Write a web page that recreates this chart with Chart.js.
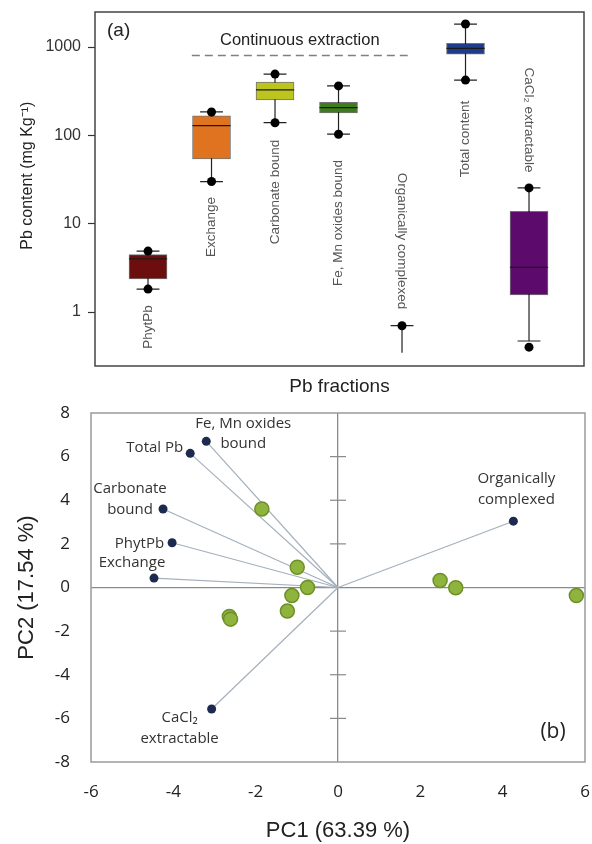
<!DOCTYPE html>
<html><head><meta charset="utf-8">
<script src="https://cdn.jsdelivr.net/npm/chart.js@4.4.0/dist/chart.umd.min.js"></script>
<style>
html,body{margin:0;padding:0;background:#fff;}
#wrap{position:relative;width:592px;height:844px;overflow:hidden;}
canvas{position:absolute;left:0;}
#c1{top:0;} #c2{top:400px;}
</style></head><body>
<div id="wrap"><canvas id="c1" width="592" height="400"></canvas><canvas id="c2" width="592" height="444"></canvas></div>
<script>
// ---------- Panel (a): Pb fractions box plots ----------
const categories = ['PhytPb','Exchange','Carbonate bound','Fe, Mn oxides bound','Organically complexed','Total content','CaCl\u2082 extractable'];
const boxQ1      = [2.37, 54, 252, 179, null, 832, 1.56];
const boxMedian  = [4.0, 129, 327, 206, null, 967, 3.2];
const boxQ3      = [4.47, 166, 400, 236, null, 1100, 13.8];
const whiskerLow = [1.82, 30, 139, 103, 0.345, 422, 0.47];
const whiskerHigh= [4.9, 184, 494, 363, 0.70, 1820, 25.4];
const capLow     = [1.82, 30, 139, 103, null, 422, 0.47];
const capHigh    = [4.9, 184, 494, 363, 0.70, 1820, 25.4];
const dotLow     = [1.82, 30, 139, 103, null, 422, 0.40];
const dotHigh    = [4.9, 184, 494, 363, 0.70, 1820, 25.4];
const boxColors  = ['#6d0e0e','#e0731f','#bcc41e','#3e7c1c','#888888','#1e3c8c','#5c0a6c'];
const yTicksA    = [1, 10, 100, 1000];
const extractionRange = [0.69, 4.09];
const extractionLevel = 800;

// ---------- Panel (b): PCA biplot ----------
const loadingNames = [['Fe, Mn oxides','bound'],['Total Pb'],['Carbonate','bound'],['PhytPb'],['Exchange'],['Organically','complexed'],['CaCl\u2082','extractable']];
const loadingPC1 = [-3.2, -3.59, -4.25, -4.03, -4.47, 4.26, -3.07];
const loadingPC2 = [6.7, 6.15, 3.6, 2.05, 0.43, 3.04, -5.57];
const scorePC1 = [-1.85, -0.99, -0.74, -1.12, -1.23, -2.64, -2.61, 2.48, 2.86, 5.79];
const scorePC2 = [3.6, 0.93, 0.0, -0.37, -1.08, -1.33, -1.45, 0.32, -0.01, -0.37];
const pcTicks = [-8,-6,-4,-2,0,2,4,6,8];

const FONT_A = '"Liberation Sans", Arial, sans-serif';
const FONT_B = '"Open Sans", "Noto Sans", sans-serif';
Chart.defaults.font.family = FONT_A;
Chart.defaults.color = '#222';

function seg(pairs){
  const out = [];
  pairs.forEach(p => { out.push(p[0], p[1], {x: p[1].x, y: null}); });
  return out;
}
function noPad(s){ s.paddingTop = 0; s.paddingBottom = 0; s.paddingLeft = 0; s.paddingRight = 0; }
const pos = categories.map((_, i) => i);
const capW = 0.18, medW = 0.3;
const whiskerData = seg(pos.map(i => [{x:i, y:whiskerLow[i]}, {x:i, y:whiskerHigh[i]}]));
const capData = seg([
  ...pos.filter(i => capLow[i] != null).map(i => [{x:i-capW, y:capLow[i]}, {x:i+capW, y:capLow[i]}]),
  ...pos.filter(i => capHigh[i] != null).map(i => [{x:i-capW, y:capHigh[i]}, {x:i+capW, y:capHigh[i]}])
]);
const boxIdx = pos.filter(i => boxQ1[i] != null);
const medianData = seg(boxIdx.map(i => [{x:i-medW, y:boxMedian[i]}, {x:i+medW, y:boxMedian[i]}]));
const boxData = boxIdx.map(i => ({x:i, y:[boxQ1[i], boxQ3[i]]}));
const dotData = [
  ...pos.filter(i => dotLow[i] != null).map(i => ({x:i, y:dotLow[i]})),
  ...pos.filter(i => dotHigh[i] != null).map(i => ({x:i, y:dotHigh[i]}))
];

const panelAPlugin = {
  id: 'panelA',
  afterDraw(chart, args, opts) {
    const {ctx, chartArea: a, scales: {x, y}} = chart;
    ctx.save();
    ctx.strokeStyle = '#444'; ctx.lineWidth = 1.5;
    ctx.strokeRect(a.left, a.top, a.right - a.left, a.bottom - a.top);
    ctx.font = '13.5px ' + FONT_A;
    ctx.fillStyle = '#555'; ctx.textAlign = 'center'; ctx.textBaseline = 'middle';
    categories.forEach((c, i) => {
      ctx.save();
      ctx.translate(x.getPixelForValue(i), opts.labelCenterY[i]);
      ctx.rotate(opts.labelDir[i] * Math.PI / 2);
      ctx.fillText(c, 0, 0);
      ctx.restore();
    });
    ctx.fillStyle = '#222';
    ctx.font = '19px ' + FONT_A; ctx.textAlign = 'left';
    ctx.fillText('(a)', a.left + 12, a.top + 19);
    ctx.font = '16.5px ' + FONT_A; ctx.textAlign = 'center';
    ctx.fillText('Continuous extraction',
      x.getPixelForValue((extractionRange[0] + extractionRange[1]) / 2),
      y.getPixelForValue(extractionLevel) - 15);
    ctx.restore();
  }
};

new Chart(document.getElementById('c1'), {
  type: 'scatter',
  data: { datasets: [
    { type:'line', data: whiskerData, borderColor:'#222', borderWidth:1.2, pointRadius:0, spanGaps:false, order:5 },
    { type:'line', data: capData, borderColor:'#222', borderWidth:1.2, pointRadius:0, spanGaps:false, order:4 },
    { type:'bar', data: boxData, backgroundColor: boxIdx.map(i => boxColors[i]), borderColor:'rgba(0,0,0,0.55)', borderWidth:1, borderSkipped:false, barThickness:38, order:3 },
    { type:'line', data: medianData, borderColor:'#1a1a1a', borderWidth:1.3, pointRadius:0, spanGaps:false, order:2 },
    { type:'scatter', data: dotData, backgroundColor:'#000', borderWidth:0, pointRadius:4.5, order:1 },
    { type:'line', data: extractionRange.map(v => ({x:v, y:extractionLevel})), borderColor:'#808080', borderWidth:1.5, borderDash:[8,5], pointRadius:0, order:0 }
  ]},
  options: {
    responsive:false, animation:false, events:[],
    layout:{ autoPadding:false, padding:{ top:12, right:8, left:0, bottom:0 } },
    plugins:{ legend:{display:false}, tooltip:{enabled:false},
      panelA:{ labelCenterY:[327,227,192,223,241,139,120], labelDir:[-1,-1,-1,-1,1,-1,1] } },
    scales:{
      x:{ type:'linear', min:-0.835, max:6.866, offset:false,
        afterFit: s => { s.height = 34; noPad(s); },
        ticks:{display:false}, grid:{display:false, drawTicks:false, offset:false},
        border:{display:false},
        title:{display:true, text:'Pb fractions', font:{size:19}, color:'#222', padding:{top:0, bottom:2}} },
      y:{ type:'logarithmic', min:0.245, max:2490, beginAtZero:false,
        afterBuildTicks: s => { s.ticks = yTicksA.map(v => ({value:v})); },
        afterFit: s => { s.width = 95; noPad(s); },
        ticks:{ callback: v => String(v), font:{size:16}, color:'#333', padding:7 },
        grid:{ drawOnChartArea:false, drawTicks:true, tickLength:7, tickColor:'#333', tickWidth:1.2 },
        border:{display:false},
        title:{display:true, text:'      Pb content (mg Kg\u207B\u00B9)', font:{size:16}, color:'#222', padding:{top:18}} }
    }
  },
  plugins:[panelAPlugin]
});

// ---------- Panel (b) chart ----------
const panelBPlugin = {
  id: 'panelB',
  afterDraw(chart, args, opts) {
    const {ctx, chartArea: a, scales: {x, y}} = chart;
    ctx.save();
    ctx.strokeStyle = '#9a9a9a'; ctx.lineWidth = 1.5;
    ctx.strokeRect(a.left, a.top, a.right - a.left, a.bottom - a.top);
    const x0 = x.getPixelForValue(0);
    ctx.strokeStyle = '#8a8a8a'; ctx.lineWidth = 1.2;
    y.ticks.forEach(t => {
      if (t.value !== 0 && t.value > y.min && t.value < y.max) {
        const py = y.getPixelForValue(t.value);
        ctx.beginPath(); ctx.moveTo(x0 - 8, py); ctx.lineTo(x0 + 8, py); ctx.stroke();
      }
    });
    ctx.fillStyle = '#333'; ctx.font = '15px ' + FONT_B; ctx.textBaseline = 'middle';
    loadingNames.forEach((lines, i) => {
      const px = x.getPixelForValue(loadingPC1[i]), py = y.getPixelForValue(loadingPC2[i]);
      const o = opts.labelOffsets[i];
      ctx.textAlign = o[2];
      lines.forEach((ln, k) => ctx.fillText(ln, px + o[0], py + o[1] + k * 20.5));
    });
    ctx.fillStyle = '#222'; ctx.font = '21px ' + FONT_B; ctx.textAlign = 'center';
    ctx.fillText('(b)', a.right - 32, a.bottom - 30);
    ctx.restore();
  }
};

const zeroColor = c => (c.tick && c.tick.value === 0) ? '#8a8a8a' : 'rgba(0,0,0,0)';
const loadingLines = loadingPC1.map((v, i) => ({
  type:'line', data:[{x:0, y:0}, {x:v, y:loadingPC2[i]}],
  borderColor:'#a4b0bc', borderWidth:1.2, pointRadius:0, order:3
}));

new Chart(document.getElementById('c2'), {
  type:'scatter',
  data:{ datasets:[
    ...loadingLines,
    { data: scorePC1.map((v, i) => ({x:v, y:scorePC2[i]})), backgroundColor:'#8fb43d', borderColor:'#6d8f2a', borderWidth:1.5, pointRadius:7, order:2 },
    { data: loadingPC1.map((v, i) => ({x:v, y:loadingPC2[i]})), backgroundColor:'#1b2a4e', borderWidth:0, pointRadius:4.5, order:1 }
  ]},
  options:{
    responsive:false, animation:false, events:[],
    layout:{ autoPadding:false, padding:{ top:13, right:7, left:0, bottom:0 } },
    plugins:{ legend:{display:false}, tooltip:{enabled:false},
      panelB:{ labelOffsets:[[37,-18,'center'],[-7,-6,'right'],[-33,-20,'center'],[-8,1,'right'],[-22,-15,'center'],[3,-42,'center'],[-32,9,'center']] } },
    scales:{
      x:{ type:'linear', min:-6, max:6,
        afterBuildTicks: s => { s.ticks = pcTicks.filter(v => v >= -6 && v <= 6).map(v => ({value:v})); },
        afterFit: s => { s.height = 82; noPad(s); },
        ticks:{ font:{size:17, family:FONT_B}, color:'#222', padding:20 },
        grid:{ drawTicks:false, color: zeroColor, lineWidth:1.3 },
        border:{display:false},
        title:{display:true, text:'PC1 (63.39 %)', font:{size:22}, color:'#222', padding:{top:0, bottom:0}} },
      y:{ type:'linear', min:-8, max:8,
        afterBuildTicks: s => { s.ticks = pcTicks.map(v => ({value:v})); },
        afterFit: s => { s.width = 91; noPad(s); },
        ticks:{ font:{size:17, family:FONT_B}, color:'#222', padding:21 },
        grid:{ drawTicks:false, color: zeroColor, lineWidth:1.3 },
        border:{display:false},
        title:{display:true, text:'PC2 (17.54 %)', font:{size:22}, color:'#222', padding:{top:14}} }
    }
  },
  plugins:[panelBPlugin]
});
</script>
</body></html>
